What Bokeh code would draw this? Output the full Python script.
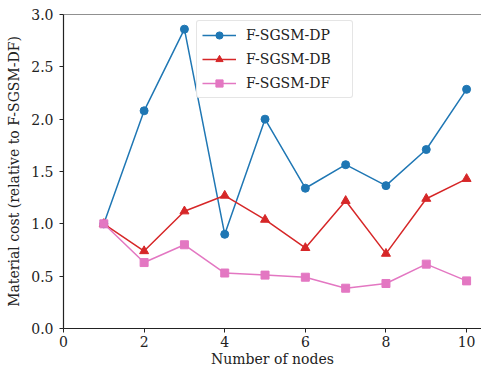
from bokeh.plotting import figure
from bokeh.models import Range1d, Span, Legend, LegendItem
from bokeh.embed import file_html
from bokeh.resources import INLINE

nodes = [1, 2, 3, 4, 5, 6, 7, 8, 9, 10]
dp = [1.00, 2.08, 2.86, 0.90, 2.00, 1.34, 1.565, 1.365, 1.71, 2.285]
db = [1.00, 0.74, 1.12, 1.27, 1.04, 0.77, 1.22, 0.715, 1.24, 1.43]
df = [1.00, 0.63, 0.80, 0.53, 0.51, 0.49, 0.385, 0.43, 0.615, 0.455]
names = ["F-SGSM-DP", "F-SGSM-DB", "F-SGSM-DF"]
colors = ["#1f77b4", "#d62728", "#e377c2"]
xticks = [0, 2, 4, 6, 8, 10]
yticks = [0.0, 0.5, 1.0, 1.5, 2.0, 2.5, 3.0]

FONT = "DejaVu Serif"

p = figure(width=481, height=369, output_backend="svg", toolbar_location=None,
           x_range=Range1d(0, 10.37), y_range=Range1d(0, 3.0),
           min_border_left=63, min_border_top=14, min_border_bottom=41, min_border_right=0)
p.frame_width = 418
p.frame_height = 314
p.outline_line_color = None
p.xgrid.visible = False
p.ygrid.visible = False

for ax in (p.xaxis[0], p.yaxis[0]):
    ax.major_label_text_font = FONT
    ax.major_label_text_font_size = "14px"
    ax.major_label_text_color = "#222222"
    ax.axis_label_text_font = FONT
    ax.axis_label_text_font_size = "14px"
    ax.axis_label_text_font_style = "normal"
    ax.axis_label_text_color = "#222222"
    ax.minor_tick_line_color = None
    ax.major_tick_out = 4
    ax.major_tick_in = 0
    ax.axis_line_color = "#222222"
    ax.major_tick_line_color = "#222222"
    ax.axis_line_width = 1.2

p.xaxis.ticker = xticks
p.yaxis.ticker = yticks
p.yaxis.major_label_overrides = {v: f"{v:.1f}" for v in yticks}
p.xaxis.axis_label = "Number of nodes"
p.yaxis.axis_label = "Material cost (relative to F-SGSM-DF)"
p.xaxis.major_label_standoff = 3
p.xaxis.axis_label_standoff = 1
p.yaxis.major_label_standoff = 6
p.yaxis.axis_label_standoff = 6

p.add_layout(Span(location=3.0, dimension="width", line_color="#222222", line_width=1.2))

r1l = p.line(nodes, dp, line_color=colors[0], line_width=1.5)
r1m = p.scatter(nodes, dp, marker="circle", size=8, fill_color=colors[0], line_color=colors[0])
r2l = p.line(nodes, db, line_color=colors[1], line_width=1.5)
r2m = p.scatter(nodes, db, marker="triangle", size=9, fill_color=colors[1], line_color=colors[1])
r3l = p.line(nodes, df, line_color=colors[2], line_width=1.5)
r3m = p.scatter(nodes, df, marker="square", size=8, fill_color=colors[2], line_color=colors[2])

legend = Legend(items=[
    LegendItem(label=names[0], renderers=[r1l, r1m]),
    LegendItem(label=names[1], renderers=[r2l, r2m]),
    LegendItem(label=names[2], renderers=[r3l, r3m]),
], location=(133, 230))
legend.label_text_font = FONT
legend.label_text_font_size = "14px"
legend.label_text_color = "#222222"
legend.border_line_color = "#cccccc"
legend.border_line_width = 1
legend.border_radius = 3
legend.glyph_width = 34
legend.glyph_height = 18
legend.label_height = 18
legend.label_width = 101
legend.label_standoff = 10
legend.padding = 5
legend.spacing = 6
legend.margin = 0
p.add_layout(legend, "center")

open("out.html", "w").write(file_html(p, INLINE))
